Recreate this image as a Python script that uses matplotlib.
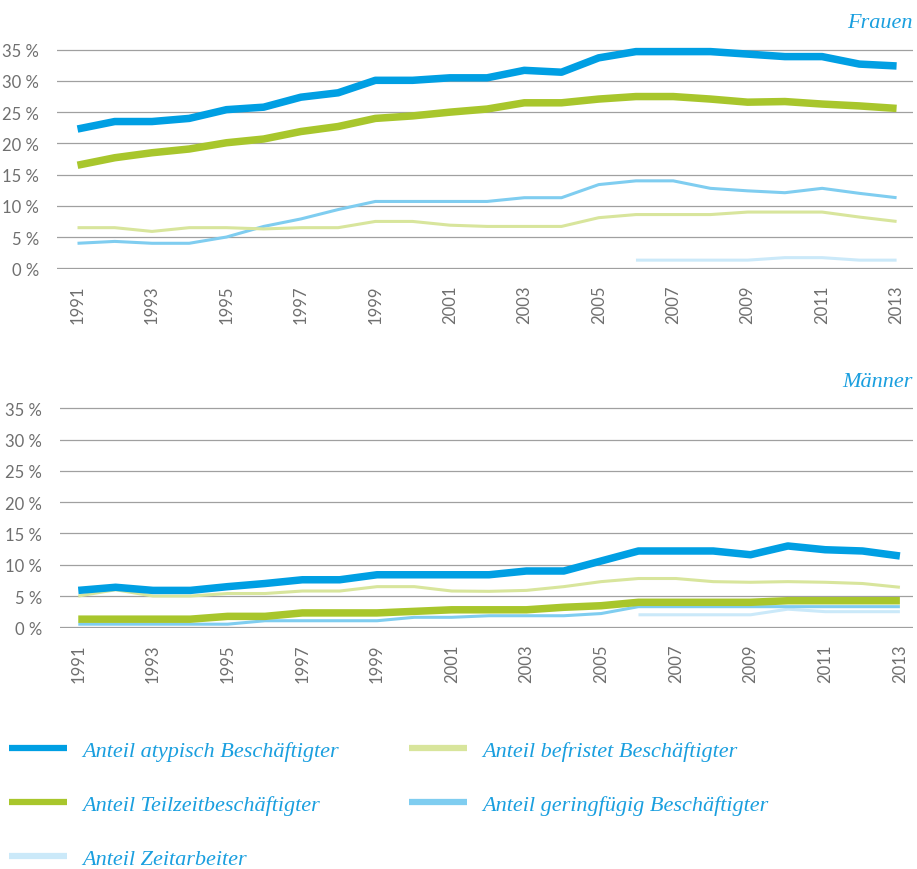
"""Atypische Beschaeftigung 1991-2013, Frauen / Maenner."""
import matplotlib
matplotlib.use('Agg')
import matplotlib.pyplot as plt

years = list(range(1991, 2014))
years_zeit = list(range(2006, 2014))

# Frauen
f_atyp = [22.3, 23.5, 23.5, 24.0, 25.4, 25.8, 27.4, 28.1, 30.1, 30.1, 30.5, 30.5,
          31.7, 31.4, 33.7, 34.7, 34.7, 34.7, 34.3, 33.9, 33.9, 32.7, 32.4]
f_teil = [16.5, 17.7, 18.5, 19.1, 20.1, 20.7, 21.9, 22.7, 24.0, 24.4, 25.0, 25.5,
          26.5, 26.5, 27.1, 27.5, 27.5, 27.1, 26.6, 26.7, 26.3, 26.0, 25.6]
f_befr = [6.5, 6.5, 5.9, 6.5, 6.5, 6.3, 6.5, 6.5, 7.5, 7.5, 6.9, 6.7,
          6.7, 6.7, 8.1, 8.6, 8.6, 8.6, 9.0, 9.0, 9.0, 8.2, 7.5]
f_gering = [4.0, 4.3, 4.0, 4.0, 5.0, 6.7, 7.9, 9.4, 10.7, 10.7, 10.7, 10.7,
            11.3, 11.3, 13.4, 14.0, 14.0, 12.8, 12.4, 12.1, 12.8, 12.0, 11.3]
f_zeit = [1.3, 1.3, 1.3, 1.3, 1.7, 1.7, 1.3, 1.3]

# Maenner
m_atyp = [5.9, 6.4, 5.9, 5.9, 6.5, 7.0, 7.6, 7.6, 8.4, 8.4, 8.4, 8.4,
          9.0, 9.0, 10.6, 12.2, 12.2, 12.2, 11.6, 13.0, 12.4, 12.2, 11.4]
m_teil = [1.3, 1.3, 1.3, 1.3, 1.75, 1.75, 2.3, 2.3, 2.3, 2.55, 2.8, 2.8,
          2.8, 3.2, 3.45, 4.0, 4.0, 4.0, 4.0, 4.25, 4.25, 4.25, 4.25]
m_befr = [5.0, 6.0, 5.0, 5.0, 5.4, 5.4, 5.8, 5.8, 6.5, 6.5, 5.8, 5.75,
          5.9, 6.5, 7.3, 7.8, 7.8, 7.3, 7.2, 7.3, 7.2, 7.0, 6.4]
m_gering = [0.5, 0.5, 0.5, 0.5, 0.5, 1.05, 1.05, 1.05, 1.05, 1.6, 1.6, 1.85,
            1.85, 1.85, 2.2, 3.3, 3.3, 3.3, 3.3, 3.3, 3.3, 3.3, 3.3]
m_zeit = [2.0, 2.0, 2.0, 2.0, 2.9, 2.5, 2.5, 2.5]

labels = ['Anteil atypisch Beschäftigter', 'Anteil Teilzeitbeschäftigter',
          'Anteil befristet Beschäftigter', 'Anteil geringfügig Beschäftigter',
          'Anteil Zeitarbeiter']
colors = ['#009fe3', '#a8c62c', '#d8e59c', '#7fcdf0', '#cbe9f9']
widths = [5.4, 5.4, 2.2, 2.2, 2.2]
yticks = [0, 5, 10, 15, 20, 25, 30, 35]
xticks = list(range(1991, 2014, 2))

BLUE = '#1a9fdf'
GREY = '#6f6f6f'

fig = plt.figure(figsize=(9.17, 8.70), dpi=100)
ax_f = fig.add_axes([0.0622, 0.6895, 0.9334, 0.2532])
ax_m = fig.add_axes([0.0654, 0.2768, 0.9302, 0.2537])

panels = [(ax_f, 'Frauen', [f_atyp, f_teil, f_befr, f_gering, f_zeit], (1990.45, 2013.44)),
          (ax_m, 'Männer', [m_atyp, m_teil, m_befr, m_gering, m_zeit], (1990.51, 2013.35))]

handles = []
for ax, title, series, xlim in panels:
    # thin series first so the thick lines sit on top
    hs = {}
    for i in [4, 3, 2, 1, 0]:
        xs = years_zeit if i == 4 else years
        h, = ax.plot(xs, series[i], color=colors[i], lw=widths[i],
                     solid_capstyle='butt', clip_on=False, label=labels[i],
                     zorder=3)
        hs[i] = h
    if not handles:
        handles = [hs[0], hs[1], hs[4], hs[2], hs[3]]
    ax.set_xlim(*xlim)
    ax.set_ylim(-0.14, 35.14)
    ax.set_yticks(yticks)
    ax.set_yticklabels([f'{v} %' for v in yticks])
    ax.set_xticks(xticks)
    ax.set_xticklabels([str(y) for y in xticks], rotation=90)
    ax.tick_params(length=0, colors=GREY, labelsize=12, pad=13)
    ax.tick_params(axis='x', pad=11)
    for lab in ax.get_xticklabels() + ax.get_yticklabels():
        lab.set_family('Lato')
    ax.grid(axis='y', color='#a0a0a0', lw=0.9)
    ax.grid(axis='x', visible=False)
    for s in ax.spines.values():
        s.set_visible(False)
    ax.text(1.0, 1.075, title, transform=ax.transAxes, ha='right', va='bottom',
            color=BLUE, fontsize=16, style='italic', family='Liberation Serif')

leg = fig.legend(handles=handles,
                 labels=[labels[0], labels[1], labels[4], labels[2], labels[3]],
                 ncol=2, loc='upper left', bbox_to_anchor=(0.0, 0.158),
                 frameon=False, handlelength=2.6, handletextpad=0.7,
                 columnspacing=3.15, labelspacing=1.5, borderaxespad=0,
                 prop={'family': 'Liberation Serif', 'style': 'italic', 'size': 16})
for t in leg.get_texts():
    t.set_color(BLUE)
for lh in leg.get_lines():
    lh.set_linewidth(4.5)

fig.savefig('out.png', dpi=100)
